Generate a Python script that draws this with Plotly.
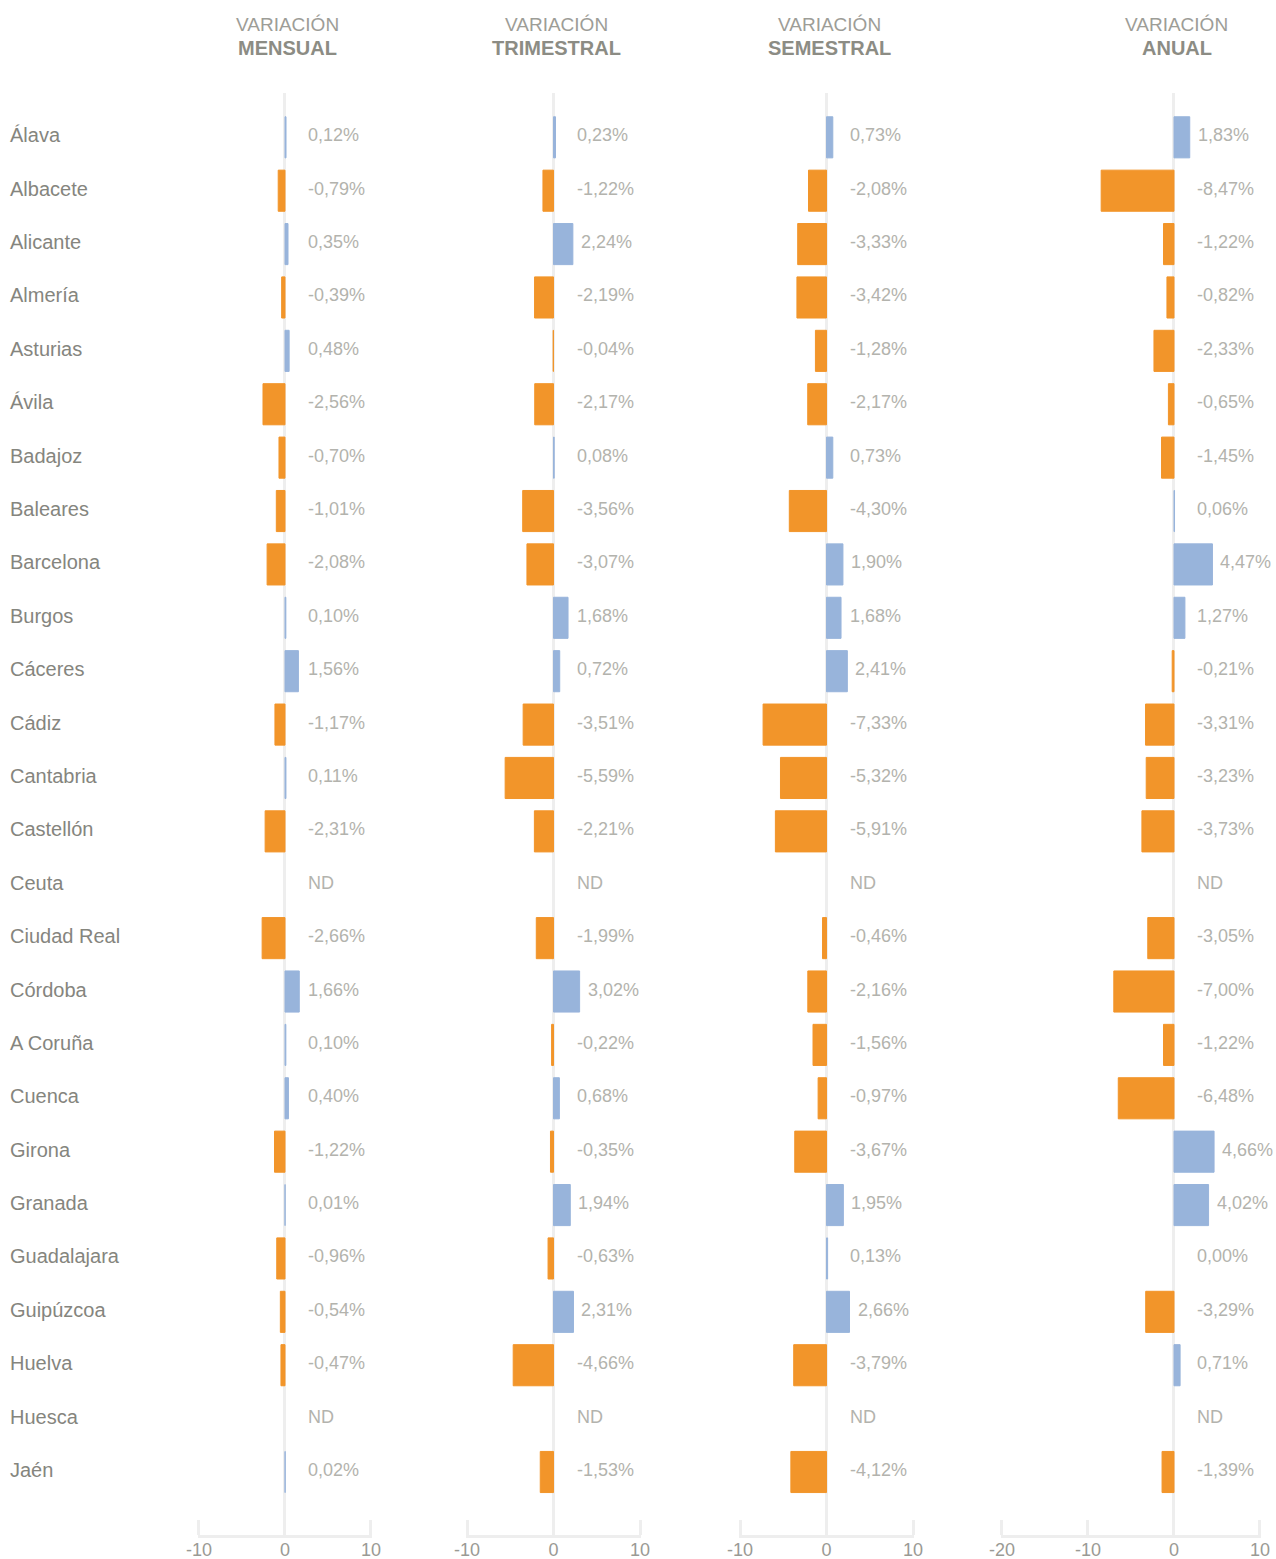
import plotly.graph_objects as go

provincias = ["Álava", "Albacete", "Alicante", "Almería", "Asturias", "Ávila", "Badajoz",
              "Baleares", "Barcelona", "Burgos", "Cáceres", "Cádiz", "Cantabria", "Castellón",
              "Ceuta", "Ciudad Real", "Córdoba", "A Coruña", "Cuenca", "Girona", "Granada",
              "Guadalajara", "Guipúzcoa", "Huelva", "Huesca", "Jaén"]

mensual = [0.12, -0.79, 0.35, -0.39, 0.48, -2.56, -0.70, -1.01, -2.08, 0.10, 1.56, -1.17, 0.11,
           -2.31, None, -2.66, 1.66, 0.10, 0.40, -1.22, 0.01, -0.96, -0.54, -0.47, None, 0.02]
trimestral = [0.23, -1.22, 2.24, -2.19, -0.04, -2.17, 0.08, -3.56, -3.07, 1.68, 0.72, -3.51, -5.59,
              -2.21, None, -1.99, 3.02, -0.22, 0.68, -0.35, 1.94, -0.63, 2.31, -4.66, None, -1.53]
semestral = [0.73, -2.08, -3.33, -3.42, -1.28, -2.17, 0.73, -4.30, 1.90, 1.68, 2.41, -7.33, -5.32,
             -5.91, None, -0.46, -2.16, -1.56, -0.97, -3.67, 1.95, 0.13, 2.66, -3.79, None, -4.12]
anual = [1.83, -8.47, -1.22, -0.82, -2.33, -0.65, -1.45, 0.06, 4.47, 1.27, -0.21, -3.31, -3.23,
         -3.73, None, -3.05, -7.00, -1.22, -6.48, 4.66, 4.02, 0.00, -3.29, 0.71, None, -1.39]

titulos = ["MENSUAL", "TRIMESTRAL", "SEMESTRAL", "ANUAL"]
series = [mensual, trimestral, semestral, anual]
rangos = [[-10, 10], [-10, 10], [-10, 10], [-20, 10]]
ticks = [[-10, 0, 10], [-10, 0, 10], [-10, 0, 10], [-20, -10, 0, 10]]

W, H = 1276, 1559
# pixel extents of each panel's axis (range min -> range max)
extents_px = [(199, 371), (467, 640), (740, 913), (1002, 1260)]
PAD = 0.12  # small range padding so edge ticks are drawn

NEG = "#F2952A"
POS = "#98B4DB"
FONT = "Liberation Sans, Arial, sans-serif"

top, bottom = 93, 1535


def ypaper(py):
    return (bottom - py) / (bottom - top)


fig = go.Figure()
annotations = []

for i, (vals, tit, rng, tv, ext) in enumerate(zip(series, titulos, rangos, ticks, extents_px)):
    xname = "x" if i == 0 else f"x{i + 1}"
    px_per_unit = (ext[1] - ext[0]) / (rng[1] - rng[0])
    dom = [(ext[0] - PAD * px_per_unit) / W, (ext[1] + PAD * px_per_unit) / W]
    rng_p = [rng[0] - PAD, rng[1] + PAD]
    colores = [NEG if (v is not None and v < 0) else POS for v in vals]
    anchos = [1 if (v is not None and v != 0) else 0 for v in vals]
    fig.add_trace(go.Bar(
        x=vals, y=provincias, orientation="h", xaxis=xname, yaxis="y",
        marker=dict(color=colores, line=dict(color=colores, width=anchos)),
        hoverinfo="skip", showlegend=False,
    ))
    axkey = "xaxis" if i == 0 else f"xaxis{i + 1}"
    fig.update_layout(**{axkey: dict(
        domain=dom, range=rng_p, anchor="y", fixedrange=True, automargin=False,
        showgrid=False, zeroline=True, zerolinecolor="#eeeeee", zerolinewidth=3,
        showline=True, linecolor="#eeeeee", linewidth=3,
        ticks="inside", ticklen=15, tickwidth=3, tickcolor="#eeeeee",
        tickvals=tv, ticktext=[str(t) for t in tv], ticklabelstandoff=-4,
        tickfont=dict(family=FONT, size=18, color="#9a9a94"),
    )})
    # value labels
    base = 21 / px_per_unit
    for p, v in zip(provincias, vals):
        if v is None:
            txt, pos = "ND", base
        else:
            txt = f"{v:.2f}".replace(".", ",") + "%"
            pos = max(base, v + 6 / px_per_unit)
        annotations.append(dict(
            x=pos, y=p, xref=xname, yref="y", text=txt, showarrow=False,
            xanchor="left", yanchor="middle", yshift=2,
            font=dict(family=FONT, size=18, color="#b3b3ad"),
        ))
    # headers
    annotations.append(dict(
        x=0.3, y=ypaper(24), xref=xname, yref="paper", text="VARIACIÓN", showarrow=False,
        xanchor="center", yanchor="middle",
        font=dict(family=FONT, size=19, color="#9d9d97"),
    ))
    annotations.append(dict(
        x=0.3, y=ypaper(48), xref=xname, yref="paper", text=f"<b>{tit}</b>", showarrow=False,
        xanchor="center", yanchor="middle",
        font=dict(family=FONT, size=20, color="#8c8c84"),
    ))

for p in provincias:
    annotations.append(dict(
        x=8 / W, y=p, xref="paper", yref="y", text=p, showarrow=False,
        xanchor="left", yanchor="middle", yshift=2,
        font=dict(family=FONT, size=20, color="#85857e"),
    ))

fig.update_layout(
    width=W, height=H,
    margin=dict(l=0, r=0, t=top, b=H - bottom, pad=0),
    paper_bgcolor="white", plot_bgcolor="white",
    bargap=0.23,
    yaxis=dict(type="category", categoryorder="array", categoryarray=provincias,
               range=[26.18, -0.83], visible=False, fixedrange=True, anchor="x",
               automargin=False),
    annotations=annotations,
    showlegend=False,
)

fig.write_html("out.html", config={"displayModeBar": False},
               post_script="document.body.style.margin='0';")
